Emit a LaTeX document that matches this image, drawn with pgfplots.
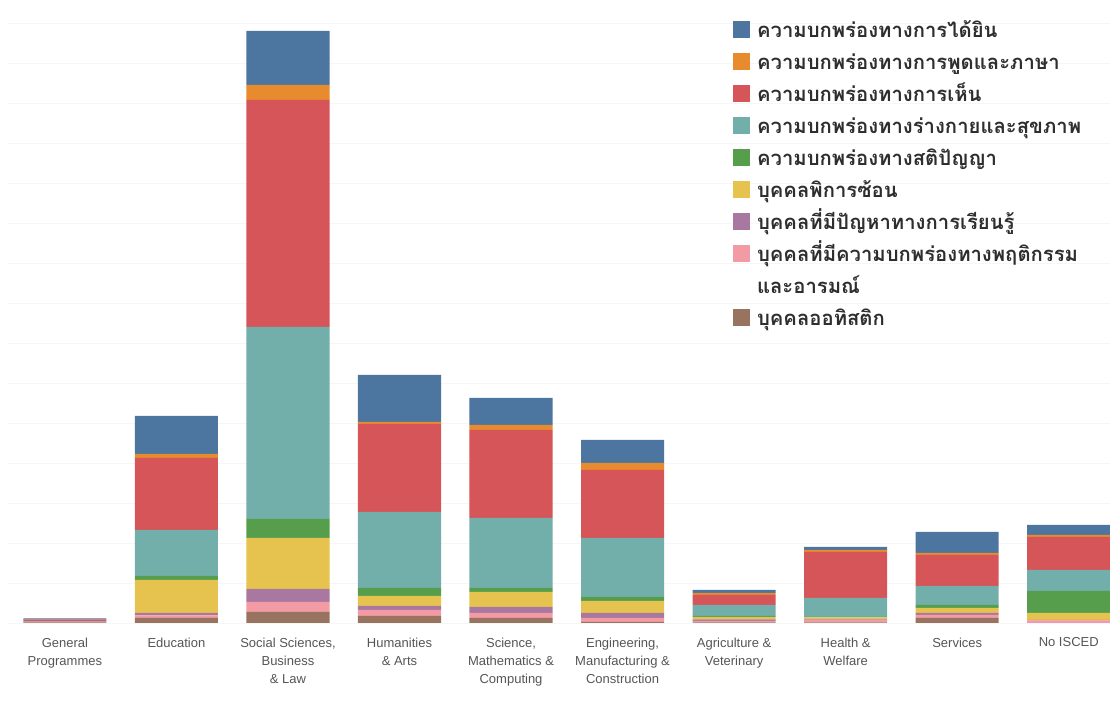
\documentclass[border=0pt]{standalone}
\usepackage{pgfplots}
\pgfplotsset{compat=1.18}
\usepackage{pgfplotstable}
\usepackage{fontspec}
\setmainfont{Liberation Sans}
\newfontfamily\thaifont[Script=Thai]{Loma}

\definecolor{cblue}{HTML}{4C75A0}
\definecolor{corange}{HTML}{E88A2E}
\definecolor{cred}{HTML}{D55558}
\definecolor{cteal}{HTML}{73AFAA}
\definecolor{cgreen}{HTML}{569E4C}
\definecolor{cyellow}{HTML}{E5C34E}
\definecolor{cpurple}{HTML}{A878A0}
\definecolor{cpink}{HTML}{F29BA4}
\definecolor{cbrown}{HTML}{98735F}
\definecolor{gridc}{HTML}{F6F6F6}
\definecolor{ticktext}{HTML}{555555}
\definecolor{legtext}{HTML}{2E2E2E}

\pgfplotstableread{
x brown pink purple yellow green teal red orange blue
0 0.5 0.5 0.5 0 0 0.5 1.5 0 1
1 5 2.5 2.5 33 4 46 72 4 38
2 11 10 13 51 19 192 227 15 54
3 7 6 4 10 8 76 88 2 47
4 5 5 6 15 4 70 88 5 27
5 1 4 5 12 4 59 68 7 23
6 0.5 1.5 1.5 2.5 1 11 10 2 3
7 0.5 2.5 0.5 2 0.5 19 46 2 3
8 5 3 2 5 3 19 31 2 21
9 0 2.5 0.5 7 22 21 33 2 10
}\datatable

\pgfplotsset{
  legsq/.style={legend image code/.code={\fill[##1,draw=none] (0pt,-8.2pt) rectangle (12.75pt,4.6pt);}},
}

\begin{document}
\begin{tikzpicture}
\begin{axis}[
  scale only axis, width=826.5pt, height=465pt,
  ybar stacked, bar width=0.745,
  xmin=-0.51, xmax=9.37, ymin=0, ymax=620,
  axis line style={draw=none},
  xtick=data,
  xticklabels={{General\\Programmes},{Education},{Social Sciences,\\Business\\\& Law},{Humanities\\\& Arts},{Science,\\Mathematics \&\\Computing},{Engineering,\\Manufacturing \&\\Construction},{Agriculture \&\\Veterinary},{Health \&\\Welfare},{Services},{No ISCED}},
  xticklabel style={align=center, font=\fontsize{9.75}{13.5}\selectfont, text=ticktext, yshift=-7.5pt},
  ytick={0,40,...,600}, yticklabels={},
  major tick length=0pt,
  ymajorgrids, grid style={line width=0.6pt, color=gridc},
  reverse legend,
  legend cell align=left,
  legend style={at={(rel axis cs:0.658,0.985)}, anchor=north west, draw=none, fill=none,
    font=\thaifont\bfseries\fontsize{15.2}{24}\selectfont, text=legtext, inner sep=0pt,
    row sep=1.7pt, column sep=3pt, cells={inner sep=0pt}},
]
\addplot[fill=cbrown, draw=none, legsq] table[x=x, y=brown] {\datatable};
\addlegendimage{empty legend}
\addplot[fill=cpink, draw=none, legsq] table[x=x, y=pink] {\datatable};
\addplot[fill=cpurple, draw=none, legsq] table[x=x, y=purple] {\datatable};
\addplot[fill=cyellow, draw=none, legsq] table[x=x, y=yellow] {\datatable};
\addplot[fill=cgreen, draw=none, legsq] table[x=x, y=green] {\datatable};
\addplot[fill=cteal, draw=none, legsq] table[x=x, y=teal] {\datatable};
\addplot[fill=cred, draw=none, legsq] table[x=x, y=red] {\datatable};
\addplot[fill=corange, draw=none, legsq] table[x=x, y=orange] {\datatable};
\addplot[fill=cblue, draw=none, legsq] table[x=x, y=blue] {\datatable};
\legend{\strut บุคคลออทิสติก, \strut และอารมณ์, \strut บุคคลที่มีความบกพร่องทางพฤติกรรม, \strut บุคคลที่มีปัญหาทางการเรียนรู้, \strut บุคคลพิการซ้อน, \strut ความบกพร่องทางสติปัญญา, \strut ความบกพร่องทางร่างกายและสุขภาพ, \strut ความบกพร่องทางการเห็น, \strut ความบกพร่องทางการพูดและภาษา, \strut ความบกพร่องทางการได้ยิน}
\end{axis}
\pgfresetboundingbox
\path (-6pt,-65.25pt) rectangle (826.5pt,467.25pt);
\end{tikzpicture}
\end{document}
